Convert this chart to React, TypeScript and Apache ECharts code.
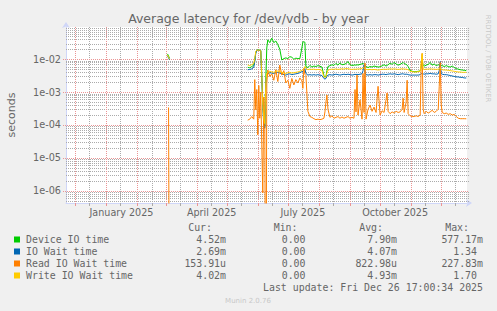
import React, { useEffect, useRef } from "react";
import * as echarts from "echarts";

// ---------- data ----------
const dates = [
  "2025-03-03", "2025-03-04", "2025-03-05", "2025-03-06",
  "2025-05-22", "2025-05-24", "2025-05-26", "2025-05-28", "2025-05-29", "2025-05-30", "2025-05-31",
  "2025-06-01", "2025-06-02", "2025-06-03", "2025-06-04", "2025-06-05", "2025-06-06", "2025-06-07", "2025-06-08", "2025-06-09", "2025-06-10",
  "2025-06-11", "2025-06-13", "2025-06-15", "2025-06-17", "2025-06-19", "2025-06-21", "2025-06-23", "2025-06-25", "2025-06-27", "2025-06-29",
  "2025-07-01", "2025-07-03", "2025-07-05", "2025-07-07", "2025-07-09", "2025-07-11", "2025-07-13", "2025-07-15", "2025-07-16", "2025-07-17",
  "2025-07-18", "2025-07-19", "2025-07-21", "2025-07-23", "2025-07-25", "2025-07-27", "2025-07-29", "2025-07-31",
  "2025-08-02", "2025-08-04", "2025-08-06", "2025-08-07", "2025-08-08", "2025-08-09", "2025-08-10", "2025-08-12", "2025-08-14", "2025-08-16",
  "2025-08-18", "2025-08-20", "2025-08-22", "2025-08-24", "2025-08-26", "2025-08-28", "2025-08-30",
  "2025-09-01", "2025-09-03", "2025-09-05", "2025-09-06", "2025-09-07", "2025-09-08", "2025-09-09", "2025-09-11", "2025-09-13", "2025-09-14",
  "2025-09-15", "2025-09-16", "2025-09-17", "2025-09-19", "2025-09-21", "2025-09-23", "2025-09-25", "2025-09-27", "2025-09-29",
  "2025-10-01", "2025-10-03", "2025-10-05", "2025-10-07", "2025-10-08", "2025-10-09", "2025-10-11", "2025-10-13", "2025-10-15", "2025-10-17",
  "2025-10-19", "2025-10-21", "2025-10-23", "2025-10-24", "2025-10-25", "2025-10-27", "2025-10-28", "2025-10-29", "2025-10-31",
  "2025-11-02", "2025-11-04", "2025-11-06", "2025-11-08", "2025-11-10", "2025-11-11", "2025-11-12", "2025-11-13", "2025-11-14", "2025-11-16",
  "2025-11-18", "2025-11-20", "2025-11-22", "2025-11-24", "2025-11-26", "2025-11-28", "2025-11-29", "2025-11-30",
  "2025-12-01", "2025-12-02", "2025-12-04", "2025-12-06", "2025-12-08", "2025-12-10", "2025-12-12", "2025-12-14", "2025-12-16", "2025-12-18",
  "2025-12-20", "2025-12-22", "2025-12-24", "2025-12-26",
];

const deviceIO = [
  1.45e-2, 1.25e-2, 1.07e-2, null,
  5.7e-3, 5.5e-3, 6.0e-3, 6.6e-3, 9.5e-3, 1.6e-2, 1.9e-2,
  1.95e-2, 1.9e-2, 1.9e-2, 1.85e-2, 3.5e-3, 5e-4, 1.3e-4, 9e-5, 2.5e-3, 2.2e-2,
  3.9e-2, 3.2e-2, 4.4e-2, 3.2e-2, 3.6e-2, 2.8e-2, 2.0e-2, 9.5e-3, 1.05e-2, 1.1e-2,
  1.05e-2, 1.2e-2, 1.15e-2, 1.0e-2, 1.08e-2, 1.05e-2, 1.05e-2, 2.2e-2, 3.4e-2, 3.4e-2,
  3.3e-2, 6.0e-3, 5.6e-3, 6.5e-3, 5.8e-3, 6.2e-3, 6.0e-3, 6.4e-3,
  6.1e-3, 5.8e-3, 3.2e-3, 2.9e-3, 3.0e-3, 4.5e-3, 6.0e-3, 6.4e-3, 6.8e-3, 6.5e-3,
  7.5e-3, 6.6e-3, 7.8e-3, 6.8e-3, 7.0e-3, 7.4e-3, 8.5e-3,
  6.8e-3, 6.5e-3, 6.6e-3, 6.8e-3, 6.5e-3, 6.9e-3, 6.6e-3, 7.0e-3, 7.2e-3, 7.6e-3,
  7.0e-3, 6.5e-3, 6.0e-3, 5.6e-3, 6.0e-3, 5.8e-3, 6.2e-3, 6.0e-3, 5.8e-3,
  5.9e-3, 6.3e-3, 6.8e-3, 6.2e-3, 6.5e-3, 6.8e-3, 7.6e-3, 7.0e-3, 8.0e-3, 7.2e-3,
  6.6e-3, 7.0e-3, 7.6e-3, 8.0e-3, 7.4e-3, 7.0e-3, 6.6e-3, 6.0e-3, 4.6e-3,
  4.3e-3, 4.2e-3, 4.2e-3, 4.3e-3, 4.4e-3, 6.0e-3, 9.0e-3, 6.5e-3, 6.2e-3, 6.6e-3,
  7.0e-3, 8.0e-3, 6.6e-3, 7.2e-3, 6.4e-3, 6.8e-3, 6.6e-3, 7.0e-3,
  6.6e-3, 6.4e-3, 6.0e-3, 6.4e-3, 6.0e-3, 5.8e-3, 6.2e-3, 5.6e-3, 5.2e-3, 5.0e-3,
  4.8e-3, 4.7e-3, 4.6e-3, 4.52e-3,
];

const ioWait = [
  1.25e-2, 1.1e-2, 9.5e-3, null,
  4.8e-3, 4.9e-3, 5.1e-3, 5.7e-3, 8.5e-3, 1.5e-2, 1.85e-2,
  1.9e-2, 1.85e-2, 1.85e-2, 1.8e-2, 2.5e-3, 3.5e-4, 1.0e-4, 8e-5, 1.8e-3, 3.4e-3,
  3.6e-3, 3.9e-3, 3.8e-3, 3.7e-3, 3.9e-3, 4.0e-3, 3.8e-3, 3.6e-3, 3.4e-3, 3.3e-3,
  3.5e-3, 3.6e-3, 3.4e-3, 3.5e-3, 3.6e-3, 3.7e-3, 3.9e-3, 4.2e-3, 4.3e-3, 4.6e-3,
  5.2e-3, 3.7e-3, 3.3e-3, 3.4e-3, 3.3e-3, 3.4e-3, 3.3e-3, 3.4e-3,
  3.3e-3, 3.2e-3, 2.6e-3, 2.5e-3, 2.6e-3, 3.0e-3, 3.3e-3, 3.4e-3, 3.3e-3, 3.4e-3,
  3.5e-3, 3.4e-3, 3.3e-3, 3.4e-3, 3.5e-3, 3.4e-3, 3.5e-3,
  3.4e-3, 3.3e-3, 3.4e-3, 3.5e-3, 3.4e-3, 3.5e-3, 3.4e-3, 3.5e-3, 3.6e-3, 4.5e-3,
  6.7e-3, 4.0e-3, 3.4e-3, 3.3e-3, 3.4e-3, 3.3e-3, 3.4e-3, 3.4e-3, 3.3e-3,
  3.4e-3, 3.5e-3, 3.5e-3, 3.4e-3, 3.5e-3, 3.5e-3, 3.6e-3, 3.5e-3, 3.6e-3, 3.5e-3,
  3.4e-3, 3.5e-3, 3.6e-3, 3.6e-3, 3.5e-3, 3.5e-3, 3.5e-3, 3.4e-3, 3.3e-3,
  3.3e-3, 3.3e-3, 3.3e-3, 3.3e-3, 3.4e-3, 3.6e-3, 3.8e-3, 3.6e-3, 3.5e-3, 3.6e-3,
  3.6e-3, 3.7e-3, 3.6e-3, 3.6e-3, 3.5e-3, 3.6e-3, 4.5e-3, 8.5e-3,
  3.6e-3, 3.5e-3, 3.4e-3, 3.4e-3, 3.3e-3, 3.2e-3, 3.1e-3, 3.0e-3, 2.9e-3, 2.9e-3,
  2.8e-3, 2.8e-3, 2.7e-3, 2.69e-3,
];

const readIO = [
  null, 3.4e-4, 0, null,
  1.4e-4, 1.5e-4, 1.8e-4, 1.5e-4, 2.4e-3, 2.9e-4, 1.2e-3,
  5e-5, 1.6e-3, 1.6e-4, 1.0e-3, 2.5e-5, 8.5e-7, 7e-4, 1.5e-4, 0, 1.8e-3,
  4.7e-3, 3.0e-3, 3.6e-3, 2.3e-3, 4.8e-3, 2.1e-3, 6.7e-3, 3.3e-3, 4.5e-3, 1.9e-3,
  2.3e-3, 1.3e-3, 2.6e-3, 1.65e-3, 2.4e-3, 1.9e-3, 2.7e-3, 2.2e-3, 1.3e-3, 5.3e-3,
  3.5e-3, 3.2e-3, 2.6e-4, 1.8e-4, 1.7e-4, 1.55e-4, 1.45e-4, 1.5e-4,
  1.45e-4, 1.5e-4, 1.6e-4, 2.5e-4, 5e-4, 8.2e-4, 3e-4, 1.7e-4, 1.9e-4, 1.6e-4,
  1.7e-4, 1.8e-4, 1.6e-4, 1.75e-4, 1.6e-4, 1.7e-4, 1.8e-4,
  1.6e-4, 1.7e-4, 1.6e-4, 1.2e-3, 2.5e-4, 3.3e-3, 2.0e-4, 5.8e-4, 1.5e-4, 3.7e-3,
  2.4e-4, 7.6e-3, 1.5e-4, 3.0e-4, 4.0e-4, 2.6e-4, 3.5e-4, 2.4e-4, 1.5e-3,
  2.0e-4, 2.7e-4, 2.4e-4, 6e-4, 9.4e-4, 2.6e-4, 2.2e-4, 2.5e-4, 2.3e-4, 2.6e-4,
  2.4e-4, 2.5e-4, 3.0e-4, 6.5e-4, 2.4e-4, 5e-4, 2.3e-3, 2.2e-4, 1.9e-4,
  1.8e-4, 1.8e-4, 1.9e-4, 1.8e-4, 2.0e-4, 6e-3, 1.5e-2, 3.0e-4, 2.2e-4, 2.6e-4,
  2.3e-4, 2.5e-4, 2.8e-4, 2.4e-4, 2.6e-4, 3.0e-4, 1.5e-3, 8e-3,
  4.0e-4, 2.4e-4, 2.2e-4, 2.3e-4, 2.1e-4, 2.2e-4, 2.0e-4, 2.1e-4, 1.8e-4, 1.6e-4,
  1.55e-4, 1.55e-4, 1.55e-4, 1.54e-4,
];

const writeIO = [
  1.35e-2, 1.15e-2, 1.0e-2, null,
  6.7e-3, 6.4e-3, 6.9e-3, 7.4e-3, 1.05e-2, 1.7e-2, 1.9e-2,
  1.9e-2, 1.85e-2, 1.9e-2, 1.8e-2, 3.0e-3, 4e-4, 1.5e-4, 1.1e-4, 2.0e-3, 3.8e-3,
  4.0e-3, 4.3e-3, 4.1e-3, 4.0e-3, 4.3e-3, 4.4e-3, 4.2e-3, 4.0e-3, 3.8e-3, 3.7e-3,
  3.9e-3, 4.0e-3, 3.8e-3, 3.9e-3, 4.0e-3, 4.1e-3, 4.3e-3, 4.6e-3, 4.8e-3, 5.2e-3,
  6.0e-3, 5.4e-3, 4.8e-3, 5.0e-3, 4.9e-3, 5.0e-3, 4.8e-3, 4.9e-3,
  4.8e-3, 4.6e-3, 2.9e-3, 2.8e-3, 2.9e-3, 3.8e-3, 4.6e-3, 4.9e-3, 5.0e-3, 4.9e-3,
  5.1e-3, 4.9e-3, 5.0e-3, 5.1e-3, 5.0e-3, 5.2e-3, 5.1e-3,
  5.0e-3, 4.9e-3, 5.0e-3, 5.0e-3, 4.9e-3, 5.1e-3, 5.0e-3, 5.1e-3, 5.2e-3, 5.6e-3,
  5.4e-3, 5.2e-3, 4.9e-3, 4.8e-3, 4.9e-3, 4.8e-3, 4.9e-3, 4.8e-3, 4.7e-3,
  4.8e-3, 4.9e-3, 5.0e-3, 4.9e-3, 5.0e-3, 5.0e-3, 5.1e-3, 5.0e-3, 5.1e-3, 5.0e-3,
  4.9e-3, 5.0e-3, 5.1e-3, 5.1e-3, 5.0e-3, 5.0e-3, 4.9e-3, 4.8e-3, 4.3e-3,
  4.2e-3, 4.1e-3, 4.1e-3, 4.2e-3, 4.3e-3, 8e-3, 1.5e-2, 5.0e-3, 4.9e-3, 5.0e-3,
  5.0e-3, 5.1e-3, 5.0e-3, 5.0e-3, 4.9e-3, 5.0e-3, 5.0e-3, 5.6e-3,
  4.9e-3, 4.8e-3, 4.7e-3, 4.7e-3, 4.6e-3, 4.5e-3, 4.4e-3, 4.3e-3, 4.2e-3, 4.1e-3,
  4.1e-3, 4.0e-3, 4.0e-3, 4.02e-3,
];

const seriesNames = ["Device IO time", "IO Wait time", "Read IO Wait time", "Write IO Wait time"];
const seriesColors = ["#00cc00", "#0066b3", "#ff8000", "#ffcc00"];
const curValues = ["4.52m", "2.69m", "153.91u", "4.02m"];
const minValues = ["0.00", "0.00", "0.00", "0.00"];
const avgValues = ["7.90m", "4.07m", "822.98u", "4.93m"];
const maxValues = ["577.17m", "1.34", "227.83m", "1.70"];
const statHeaders = ["Cur:", "Min:", "Avg:", "Max:"];

const monthStarts = [
  "2024-12-01", "2025-01-01", "2025-02-01", "2025-03-01", "2025-04-01", "2025-05-01", "2025-06-01",
  "2025-07-01", "2025-08-01", "2025-09-01", "2025-10-01", "2025-11-01", "2025-12-01",
];
const midMonths = [
  "2024-12-15", "2025-01-15", "2025-02-15", "2025-03-15", "2025-04-15", "2025-05-15", "2025-06-15",
  "2025-07-15", "2025-08-15", "2025-09-15", "2025-10-15", "2025-11-15", "2025-12-15",
];
const xLabelDates = ["2025-01-16", "2025-04-16", "2025-07-16", "2025-10-16"];
const xLabelTexts = ["January 2025", "April 2025", "July 2025", "October 2025"];

const timeStart = "2024-11-21T17:00:34";
const timeEnd = "2025-12-26T17:00:34";
const yMin = 4.2e-7;
const yMax = 0.096;
const lastUpdate = "Last update: Fri Dec 26 17:00:34 2025";

// ---------- helpers ----------
const toMs = (s: string) => Date.parse(s.length === 10 ? s + "T00:00:00Z" : s + "Z");
const ZERO_ON_LOG = 1e-12;
const mkData = (vals: (number | null)[]) =>
  dates.map((d, i) => {
    const v = vals[i];
    return [toMs(d), v === null ? "-" : v === 0 ? ZERO_ON_LOG : v];
  });

// rrdtool default grid colours composited on white; munin axis/font colours
const MAJOR_GRID = "#eb9595";
const MINOR_GRID = "#ababab";
const AXIS_COLOR = "#cfd6f8";
const TEXT = "#666666";
const SANS = "DejaVu Sans";
const MONO = "DejaVu Sans Mono";

function textEls(): any[] {
  const els: any[] = [
    {
      type: "text", x: 248.5, y: 18.5, silent: true, z: 10,
      style: {
        text: "Average latency for /dev/vdb - by year", fill: TEXT, fontSize: 12.5,
        fontFamily: SANS, align: "center", verticalAlign: "middle",
      },
    },
    {
      type: "text", x: 11, y: 115, rotation: Math.PI / 2, silent: true, z: 10,
      style: { text: "seconds", fill: TEXT, fontSize: 11, fontFamily: SANS, align: "center", verticalAlign: "middle" },
    },
    {
      type: "text", x: 487.5, y: 58.5, rotation: -Math.PI / 2, silent: true, z: 10,
      style: { text: "RRDTOOL / TOBI OETIKER", fill: "#c8c8c8", fontSize: 6.8, fontFamily: SANS, align: "center", verticalAlign: "middle" },
    },
    {
      type: "text", x: 248, y: 300.5, silent: true, z: 10,
      style: { text: "Munin 2.0.76", fill: "#c8c8c8", fontSize: 7, fontFamily: SANS, align: "center", verticalAlign: "middle" },
    },
  ];
  const colEnds = [226, 311.5, 397, 483];
  const rowY0 = 239.5;
  const rowStep = 12;
  statHeaders.forEach((h, c) => {
    els.push({
      type: "text", x: colEnds[c] - 14, y: 227.5, silent: true, z: 10,
      style: { text: h, fill: TEXT, fontSize: 9.9, fontFamily: MONO, align: "right", verticalAlign: "middle" },
    });
  });
  const cols = [curValues, minValues, avgValues, maxValues];
  seriesNames.forEach((name, r) => {
    const y = rowY0 + r * rowStep;
    els.push({
      type: "rect", shape: { x: 14, y: y - 3, width: 6, height: 6 }, silent: true, z: 10,
      style: { fill: seriesColors[r] },
    });
    els.push({
      type: "text", x: 26, y, silent: true, z: 10,
      style: { text: name, fill: TEXT, fontSize: 9.9, fontFamily: MONO, align: "left", verticalAlign: "middle" },
    });
    cols.forEach((col, c) => {
      const s = col[r];
      const hasUnit = /[a-zA-Z]$/.test(s);
      els.push({
        type: "text", x: hasUnit ? colEnds[c] : colEnds[c] - 6, y, silent: true, z: 10,
        style: { text: s, fill: TEXT, fontSize: 9.9, fontFamily: MONO, align: "right", verticalAlign: "middle" },
      });
    });
  });
  els.push({
    type: "text", x: 483, y: 287.5, silent: true, z: 10,
    style: { text: lastUpdate, fill: TEXT, fontSize: 9.9, fontFamily: MONO, align: "right", verticalAlign: "middle" },
  });
  return els;
}

function baseOption() {
  const tMin = toMs(timeStart);
  const tMax = toMs(timeEnd);
  const seriesVals = [deviceIO, ioWait, readIO, writeIO];
  const lineSeries = seriesVals.map((vals, i) => ({
    name: seriesNames[i],
    type: "line",
    data: mkData(vals),
    showSymbol: false,
    symbol: "none",
    connectNulls: false,
    clip: true,
    silent: true,
    z: 5,
    lineStyle: { color: seriesColors[i], width: 1 },
    itemStyle: { color: seriesColors[i] },
  }));
  return {
    animation: false,
    backgroundColor: "#f0f0f0",
    grid: {
      left: 66, top: 27, right: 30, bottom: 108,
      show: true, backgroundColor: "#ffffff", borderWidth: 0,
    },
    xAxis: {
      type: "time",
      min: tMin,
      max: tMax,
      axisLabel: { show: false },
      axisTick: { show: false },
      splitLine: { show: false },
      axisLine: {
        show: true,
        lineStyle: { color: AXIS_COLOR, width: 1 },
        symbol: ["none", "arrow"],
        symbolSize: [6, 6],
        symbolOffset: [0, 5],
      },
    },
    yAxis: {
      type: "log",
      logBase: 10,
      min: yMin,
      max: yMax,
      splitLine: { show: false },
      axisTick: { show: false },
      axisLine: {
        show: true,
        lineStyle: { color: AXIS_COLOR, width: 1 },
        symbol: ["none", "arrow"],
        symbolSize: [6, 6],
        symbolOffset: [0, 5],
      },
      axisLabel: {
        color: TEXT,
        fontSize: 9.7,
        fontFamily: SANS,
        margin: 5,
        showMinLabel: false,
        showMaxLabel: false,
        formatter: (v: number) => {
          const e = Math.round(Math.log10(v));
          return "1e" + (e < 0 ? "-" : "+") + String(Math.abs(e)).padStart(2, "0");
        },
      },
    },
    series: lineSeries,
    graphic: textEls(),
  };
}

function gridEls(chart: any): any[] {
  const tMin = toMs(timeStart);
  const tMax = toMs(timeEnd);
  const p0 = chart.convertToPixel({ gridIndex: 0 }, [tMin, yMax]);
  const p1 = chart.convertToPixel({ gridIndex: 0 }, [tMax, yMin]);
  const left = p0[0], top = p0[1], right = p1[0], bottom = p1[1];
  const els: any[] = [];
  const dotted = (color: string) => ({ stroke: color, lineWidth: 1, lineDash: [1, 1] });

  const hMinor: number[] = [];
  const hMajor: number[] = [];
  for (let k = -7; k <= -1; k++) {
    for (let m = 1; m <= 9; m++) {
      const v = m * Math.pow(10, k);
      if (v <= yMin || v >= yMax) continue;
      (m === 1 ? hMajor : hMinor).push(v);
    }
  }
  const hLine = (v: number, major: boolean) => {
    const y = Math.round(chart.convertToPixel({ gridIndex: 0 }, [tMin, v])[1]) + 0.5;
    els.push({
      type: "line", silent: true, z: 1,
      shape: { x1: left - (major ? 3 : 0), y1: y, x2: right + 2, y2: y },
      style: dotted(major ? MAJOR_GRID : MINOR_GRID),
    });
  };
  hMinor.forEach((v) => hLine(v, false));

  const vLines = [
    ...midMonths.map((d) => ({ t: toMs(d), major: false })),
    ...monthStarts.map((d) => ({ t: toMs(d), major: true })),
  ].filter((o) => o.t > tMin && o.t < tMax);
  vLines.forEach((o) => {
    const x = Math.round(chart.convertToPixel({ gridIndex: 0 }, [o.t, yMax])[0]) + 0.5;
    els.push({
      type: "line", silent: true, z: 1,
      shape: { x1: x, y1: top, x2: x, y2: bottom },
      style: dotted(o.major ? MAJOR_GRID : MINOR_GRID),
    });
    els.push({
      type: "line", silent: true, z: 1,
      shape: { x1: x, y1: bottom, x2: x, y2: bottom + 3 },
      style: { stroke: o.major ? MAJOR_GRID : MINOR_GRID, lineWidth: 1 },
    });
  });
  hMajor.forEach((v) => hLine(v, true));

  xLabelDates.forEach((d, i) => {
    const x = chart.convertToPixel({ gridIndex: 0 }, [toMs(d), yMax])[0];
    els.push({
      type: "text", x, y: bottom + 9, silent: true, z: 10,
      style: { text: xLabelTexts[i], fill: TEXT, fontSize: 9.6, fontFamily: SANS, align: "center", verticalAlign: "middle" },
    });
  });
  return els;
}

export default function App() {
  const ref = useRef<HTMLDivElement>(null);
  useEffect(() => {
    if (!ref.current) return;
    const chart = echarts.init(ref.current, undefined, { renderer: "svg" });
    chart.setOption(baseOption() as any);
    chart.setOption({ graphic: [...textEls(), ...gridEls(chart)] } as any);
    return () => chart.dispose();
  }, []);
  return (
    <div
      ref={ref}
      style={{ position: "fixed", left: 0, top: 0, width: 497, height: 311 }}
    />
  );
}
